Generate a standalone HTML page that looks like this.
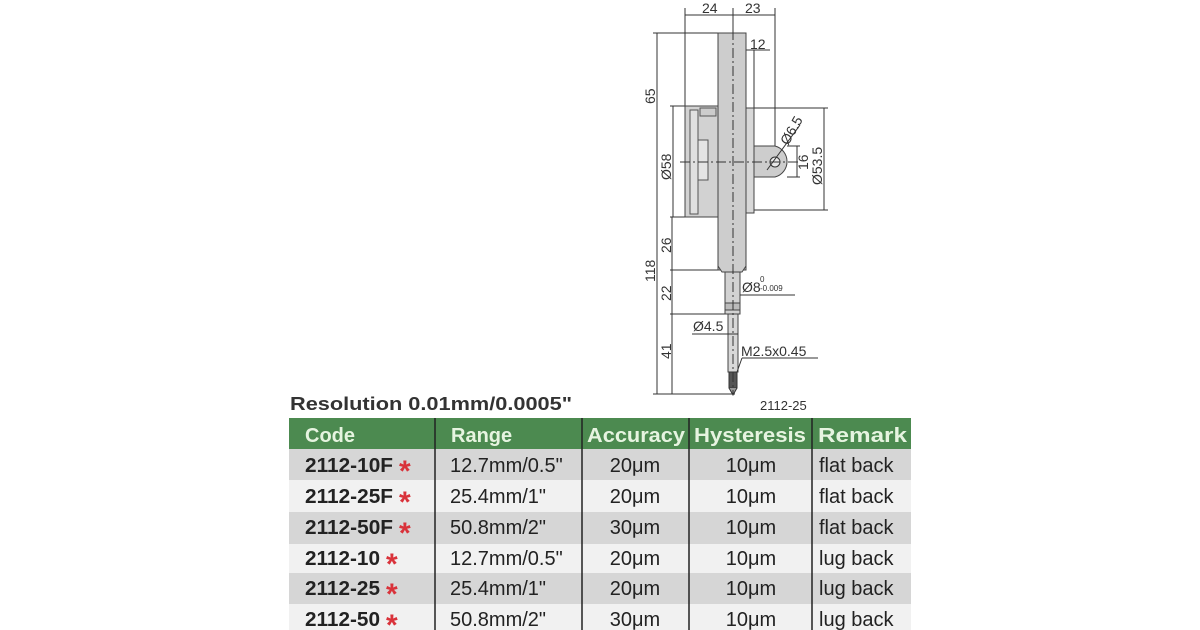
<!DOCTYPE html>
<html><head><style>
body{margin:0;background:#fff;width:1200px;height:630px;overflow:hidden}
svg{display:block}
text{font-family:"Liberation Sans",Arial,sans-serif}
</style></head><body>
<svg width="1200" height="630" viewBox="0 0 1200 630">
<g stroke="#333" stroke-width="1" fill="none">
<line x1="685" y1="8" x2="685" y2="108"/>
<line x1="733" y1="8" x2="733" y2="32"/>
<line x1="775" y1="8" x2="775" y2="160"/>
<line x1="685" y1="15" x2="775" y2="15"/>
<line x1="653" y1="33" x2="720" y2="33"/>
<line x1="657" y1="33" x2="657" y2="394"/>
<line x1="733" y1="50" x2="770" y2="50"/>
<line x1="754" y1="50" x2="754" y2="108"/>
<line x1="670" y1="106" x2="690" y2="106"/>
<line x1="670" y1="217" x2="690" y2="217"/>
<line x1="673" y1="106" x2="673" y2="217"/>
<line x1="754" y1="108" x2="828" y2="108"/>
<line x1="754" y1="210" x2="828" y2="210"/>
<line x1="824" y1="108" x2="824" y2="210"/>
<line x1="787" y1="146" x2="800" y2="146"/>
<line x1="787" y1="177" x2="800" y2="177"/>
<line x1="797" y1="146" x2="797" y2="177"/>
<line x1="672" y1="217" x2="672" y2="394"/>
<line x1="670" y1="270" x2="726" y2="270"/>
<line x1="670" y1="314" x2="726" y2="314"/>
<line x1="653" y1="394" x2="735" y2="394"/>
</g>
<rect x="718" y="33" width="28" height="237" fill="#cdcdcd" stroke="#444"/>
<path d="M718 266 L722 272 L742 272 L746 266" fill="#cdcdcd" stroke="#444"/>
<rect x="685" y="106" width="33" height="111" fill="#d2d2d2" stroke="#444"/>
<rect x="690" y="110" width="8" height="104" fill="#e0e0e0" stroke="#555"/>
<rect x="700" y="108" width="16" height="8" fill="#ccc" stroke="#555"/>
<rect x="698" y="140" width="10" height="40" fill="#e4e4e4" stroke="#555"/>
<rect x="746" y="108" width="8" height="105" fill="#d8d8d8" stroke="#444"/>
<path d="M754 146 H775 A16 16 0 0 1 775 177 H754 Z" fill="#cdcdcd" stroke="#444"/>
<circle cx="775" cy="162" r="5" fill="#e8e8e8" stroke="#333"/>
<line x1="767" y1="170" x2="800" y2="125" stroke="#333"/>
<line x1="680" y1="162" x2="800" y2="162" stroke="#333" stroke-dasharray="10,3,2,3"/>
<rect x="725" y="272" width="15" height="42" fill="#d2d2d2" stroke="#444"/>
<rect x="725" y="303" width="15" height="7" fill="#bbb" stroke="#444"/>
<rect x="728" y="314" width="10" height="58" fill="#d8d8d8" stroke="#444"/>
<rect x="729" y="372" width="8" height="16" fill="#555" stroke="#333"/>
<path d="M729 388 L733 395 L737 388" fill="#999" stroke="#333"/>
<line x1="733" y1="30" x2="733" y2="395" stroke="#333" stroke-dasharray="10,3,2,3"/>
<g stroke="#333">
<line x1="740" y1="295" x2="795" y2="295"/>
<line x1="692" y1="334" x2="738" y2="334"/>
<line x1="742" y1="358" x2="818" y2="358"/>
<line x1="742" y1="358" x2="737" y2="372"/>
</g>
<g font-size="14" fill="#333">
<text x="702" y="13">24</text>
<text x="745" y="13">23</text>
<text x="750" y="49">12</text>
<text transform="translate(655,104) rotate(-90)">65</text>
<text transform="translate(671,180) rotate(-90)">Ø58</text>
<text transform="translate(788,146) rotate(-60)">Ø6.5</text>
<text transform="translate(808,170) rotate(-90)">16</text>
<text transform="translate(822,185) rotate(-90)">Ø53.5</text>
<text transform="translate(671,253) rotate(-90)">26</text>
<text transform="translate(655,282) rotate(-90)">118</text>
<text transform="translate(671,301) rotate(-90)">22</text>
<text transform="translate(671,359) rotate(-90)">41</text>
<text x="742" y="292">Ø8</text>
<text x="760" y="282" font-size="8">0</text>
<text x="760" y="291" font-size="8">-0.009</text>
<text x="693" y="331">Ø4.5</text>
<text x="741" y="356">M2.5x0.45</text>
<text x="760" y="410" font-size="13">2112-25</text>
</g>
<text x="290" y="410" font-size="18" font-weight="bold" fill="#333" textLength="282" lengthAdjust="spacingAndGlyphs">Resolution 0.01mm/0.0005"</text>
<rect x="289" y="418" width="622" height="31" fill="#4c8a50"/>
<rect x="289" y="449" width="622" height="31" fill="#d6d6d6"/>
<rect x="289" y="480" width="622" height="32" fill="#f1f1f1"/>
<rect x="289" y="512" width="622" height="32" fill="#d6d6d6"/>
<rect x="289" y="544" width="622" height="29" fill="#f1f1f1"/>
<rect x="289" y="573" width="622" height="31" fill="#d6d6d6"/>
<rect x="289" y="604" width="622" height="26" fill="#f1f1f1"/>
<g stroke="#222" stroke-width="1.5">
<line x1="435" y1="418" x2="435" y2="630"/>
<line x1="582" y1="418" x2="582" y2="630"/>
<line x1="689" y1="418" x2="689" y2="630"/>
<line x1="812" y1="418" x2="812" y2="630"/>
</g>
<g font-size="20" font-weight="bold" fill="#e6f4e0">
<text x="305" y="442">Code</text>
<text x="451" y="442">Range</text>
<text x="587" y="442" textLength="98" lengthAdjust="spacingAndGlyphs">Accuracy</text>
<text x="694" y="442" textLength="112" lengthAdjust="spacingAndGlyphs">Hysteresis</text>
<text x="818" y="442" textLength="89" lengthAdjust="spacingAndGlyphs">Remark</text>
</g>
<g font-size="20" fill="#222">
<g font-weight="bold">
<text x="305" y="472" textLength="88" lengthAdjust="spacingAndGlyphs">2112-10F</text>
<text x="305" y="503" textLength="88" lengthAdjust="spacingAndGlyphs">2112-25F</text>
<text x="305" y="534" textLength="88" lengthAdjust="spacingAndGlyphs">2112-50F</text>
<text x="305" y="565" textLength="75" lengthAdjust="spacingAndGlyphs">2112-10</text>
<text x="305" y="595" textLength="75" lengthAdjust="spacingAndGlyphs">2112-25</text>
<text x="305" y="626" textLength="75" lengthAdjust="spacingAndGlyphs">2112-50</text>
</g>
<g fill="#d9323a" font-weight="bold" font-size="30">
<text x="399" y="481">*</text><text x="399" y="512">*</text><text x="399" y="543">*</text>
<text x="386" y="574">*</text><text x="386" y="604">*</text><text x="386" y="635">*</text>
</g>
<text x="450" y="472">12.7mm/0.5"</text>
<text x="450" y="503">25.4mm/1"</text>
<text x="450" y="534">50.8mm/2"</text>
<text x="450" y="565">12.7mm/0.5"</text>
<text x="450" y="595">25.4mm/1"</text>
<text x="450" y="626">50.8mm/2"</text>
<g text-anchor="middle">
<text x="635" y="472">20μm</text><text x="635" y="503">20μm</text><text x="635" y="534">30μm</text>
<text x="635" y="565">20μm</text><text x="635" y="595">20μm</text><text x="635" y="626">30μm</text>
<text x="751" y="472">10μm</text><text x="751" y="503">10μm</text><text x="751" y="534">10μm</text>
<text x="751" y="565">10μm</text><text x="751" y="595">10μm</text><text x="751" y="626">10μm</text>
</g>
<text x="819" y="472">flat back</text>
<text x="819" y="503">flat back</text>
<text x="819" y="534">flat back</text>
<text x="819" y="565">lug back</text>
<text x="819" y="595">lug back</text>
<text x="819" y="626">lug back</text>
</g>
</svg>
</body></html>
